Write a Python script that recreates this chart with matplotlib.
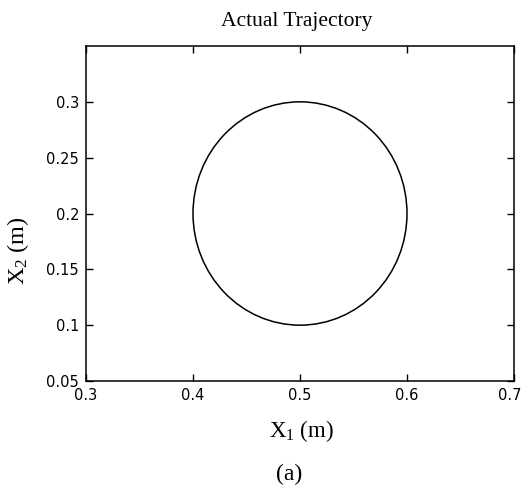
import matplotlib
matplotlib.use("Agg")
import matplotlib.pyplot as plt
import matplotlib.transforms as mtransforms
from matplotlib.patches import Circle

# Data
center_x = 0.5
center_y = 0.2
radius = 0.1
x_ticks = [0.3, 0.4, 0.5, 0.6, 0.7]
x_tick_labels = ["0.3", "0.4", "0.5", "0.6", "0.7"]
y_ticks = [0.05, 0.1, 0.15, 0.2, 0.25, 0.3]
y_tick_labels = ["0.05", "0.1", "0.15", "0.2", "0.25", "0.3"]
x_limits = [0.3, 0.7]
y_limits = [0.05, 0.35]

plt.rcParams['mathtext.fontset'] = 'custom'
plt.rcParams['mathtext.rm'] = 'Liberation Serif'
plt.rcParams['mathtext.it'] = 'Liberation Serif:italic'

W, H = 523, 496
fig = plt.figure(figsize=(W / 100, H / 100), dpi=100)
L, R, T, B = 86, 514, 46, 381
ax = fig.add_axes([L / W, 1 - B / H, (R - L) / W, (B - T) / H])

ax.add_patch(Circle((center_x, center_y), radius, fill=False, color='black', lw=1.1))
ax.set_xlim(*x_limits)
ax.set_ylim(*y_limits)
ax.set_xticks(x_ticks)
ax.set_xticklabels(x_tick_labels)
ax.set_yticks(y_ticks)
ax.set_yticklabels(y_tick_labels)
ax.tick_params(direction='in', length=5, width=1, top=True, right=True,
               labelsize=10.5, pad=5)
for lab in ax.get_xticklabels() + ax.get_yticklabels():
    lab.set_fontfamily('DejaVu Sans')
last = ax.get_xticklabels()[-1]
last.set_transform(last.get_transform() +
                   mtransforms.ScaledTranslation(-4 / 100, 0, fig.dpi_scale_trans))
for s in ax.spines.values():
    s.set_linewidth(1.1)

serif = 'Liberation Serif'
fig.text(297 / W, 1 - 26 / H, 'Actual Trajectory', ha='center', va='baseline',
         fontsize=15.5, family=serif)
fig.text(302 / W, 1 - 437 / H, r'X$_1$ (m)', ha='center', va='baseline',
         fontsize=16.5, family=serif)
fig.text(289 / W, 1 - 480 / H, '(a)', ha='center', va='baseline',
         fontsize=17, family=serif)
fig.text(18 / W, 1 - 251 / H, r'X$_2$ (m)', ha='center', va='center',
         rotation=90, fontsize=17.5, family=serif)

fig.savefig('out.png', dpi=100)
